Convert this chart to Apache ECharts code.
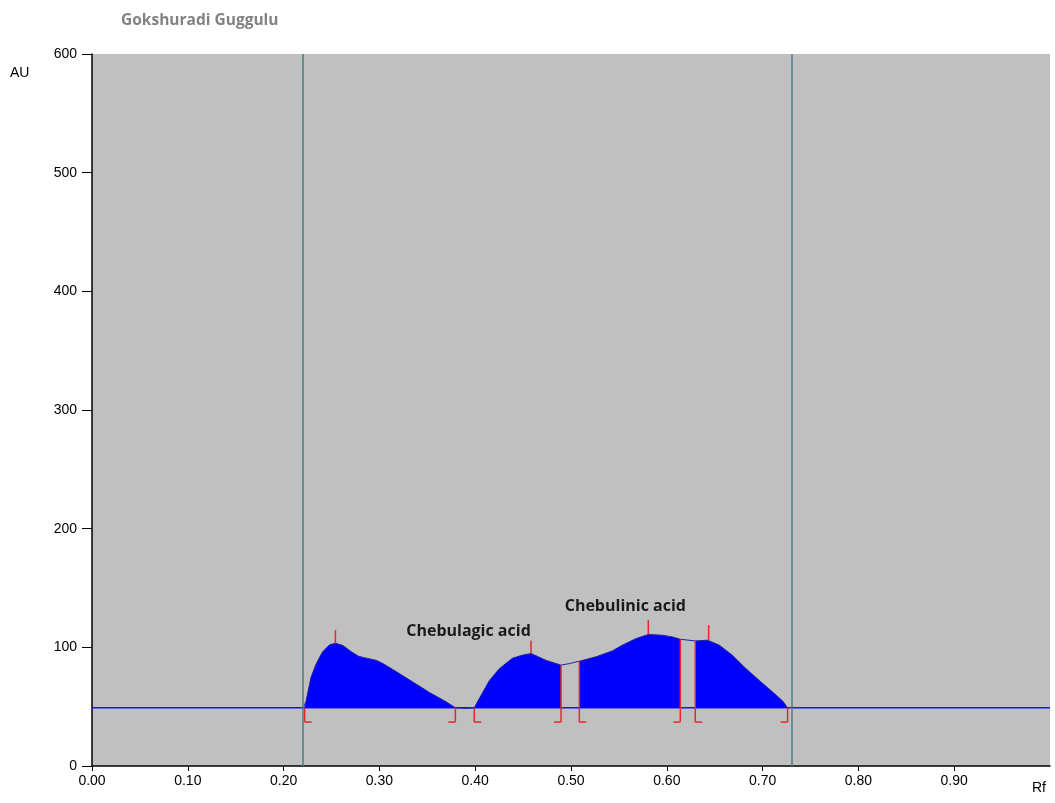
<!DOCTYPE html>
<html><head><meta charset="utf-8">
<script src="https://cdn.jsdelivr.net/npm/echarts@6/dist/echarts.min.js"></script>
<style>html,body{margin:0;padding:0;background:#fff}#c{width:1055px;height:803px}</style>
</head><body><div id="c"></div>
<script>
// ---- data ----
const chartTitle = 'Gokshuradi Guggulu';
const yAxisName = 'AU';
const xAxisName = 'Rf';
const baselineAU = 49;
const bracketBottomAU = 37;
const trackLimits = [0.2207, 0.7276];
// densitometric trace [Rf, AU]
const trace = [
  [0.000,49],[0.2207,49],[0.222,49],[0.2235,55],[0.2287,75],[0.234,86],[0.2405,96],[0.2478,102],[0.2541,103.5],
  [0.2620,101.5],[0.2712,96],[0.2782,92.5],[0.2830,91.5],[0.2969,89],[0.3032,86.5],[0.3136,81.5],
  [0.3345,71],[0.3522,62],[0.3699,54],[0.3793,49],[0.3900,48.5],[0.3990,49],
  [0.4044,57],[0.4148,72],[0.4252,82],[0.4388,90.8],[0.4492,93.4],[0.4583,94.8],[0.4660,92],
  [0.4740,89],[0.4896,85],[0.4983,86.3],[0.5087,88.3],[0.5261,92],[0.5431,97],[0.5536,101.8],
  [0.5679,107.4],[0.5807,110.8],[0.5953,110.2],[0.6057,108.8],[0.6141,106.8],[0.6297,105.4],
  [0.6426,106],[0.6548,101.8],[0.6684,93.4],[0.6827,82],[0.6966,72],[0.7104,62.4],[0.7209,54.8],
  [0.7261,49],[1.000,49]
];
// integrated peak windows [startRf, endRf]
const peakWindows = [[0.222,0.3793],[0.399,0.4896],[0.5087,0.6141],[0.6297,0.7261]];
// bracket markers [Rf, topAU, direction(+1 start, -1 end)]
const brackets = [
  [0.222,49,1],[0.3793,49,-1],[0.399,49,1],[0.4896,85,-1],
  [0.5087,88.3,1],[0.6141,106.8,-1],[0.6297,105.4,1],[0.7261,49,-1]
];
// peak maximum ticks [Rf, fromAU, toAU]
const peakTicks = [[0.2541,103.5,114.5],[0.4583,94.8,105.7],[0.5807,110.8,122.9],[0.6437,106,118.7]];
// annotations [Rf, AU, text]
const annotations = [[0.393,113.6,'Chebulagic acid'],[0.5567,134.3,'Chebulinic acid']];
const xTickLabels = ['0.00','0.10','0.20','0.30','0.40','0.50','0.60','0.70','0.80','0.90','1.00'];

// ---- chart ----
const chart = echarts.init(document.getElementById('c'), null, {renderer:'canvas'});
const fillSeries = peakWindows.map(w => ({
  type:'line', silent:true, symbol:'none', z:2,
  data: trace.filter(p => p[0] >= w[0] && p[0] <= w[1]),
  lineStyle:{width:0},
  areaStyle:{color:'#0000ff', opacity:1, origin: baselineAU}
}));
const axisFont = {fontFamily:'"Liberation Sans", Arial, sans-serif', fontSize:14, color:'#000'};
chart.setOption({
  animation:false,
  backgroundColor:'#ffffff',
  grid:{left:92, right:5, top:54, bottom:37, show:true, backgroundColor:'#c0c0c0', borderWidth:0},
  xAxis:{type:'value', min:0, max:1, interval:0.1,
    axisLine:{show:true, onZero:false, lineStyle:{color:'#000', width:1.5}},
    axisTick:{show:true, length:5, lineStyle:{color:'#000'}},
    splitLine:{show:false},
    axisLabel:Object.assign({margin:8, showMaxLabel:false,
      formatter:(v)=>xTickLabels[Math.round(v*10)]}, axisFont)},
  yAxis:{type:'value', min:0, max:600, interval:100,
    axisLine:{show:true, lineStyle:{color:'#000', width:1.5}},
    axisTick:{show:true, length:10, lineStyle:{color:'#000'}},
    splitLine:{show:false},
    axisLabel:Object.assign({margin:15}, axisFont)},
  graphic:[
    {type:'text', left:121, top:13, style:{text:chartTitle, font:'bold 15.5px "Open Sans", sans-serif', fill:'#828282'}},
    {type:'text', left:10, top:66, style:{text:yAxisName, font:'14px "Liberation Sans", Arial, sans-serif', fill:'#000'}},
    {type:'text', left:1032, top:781, style:{text:xAxisName, font:'14px "Liberation Sans", Arial, sans-serif', fill:'#000'}}
  ],
  series:[
    {type:'line', silent:true, symbol:'none', z:1,
      data:[[0,baselineAU],[1,baselineAU]],
      lineStyle:{color:'#1414ff', width:1.5},
      markLine:{silent:true, symbol:'none', label:{show:false},
        lineStyle:{color:'#4b7d84', width:1.5, type:'solid'},
        data: trackLimits.map(v=>({xAxis:v}))}
    },
    ...fillSeries,
    {type:'line', silent:true, symbol:'none', z:3,
      data: trace.filter(p => p[0] >= 0.2207 && p[0] <= 0.7261),
      lineStyle:{color:'#22229a', width:1}},
    {type:'custom', z:4, silent:true, data:brackets,
      renderItem:(params, api)=>{
        const x = api.value(0), top = api.value(1), dir = api.value(2);
        const p1 = api.coord([x, top]), p2 = api.coord([x, bracketBottomAU]);
        const st = {stroke:'#e8262c', lineWidth:1.5};
        return {type:'group', children:[
          {type:'line', shape:{x1:p1[0], y1:p1[1], x2:p2[0], y2:p2[1]}, style:st},
          {type:'line', shape:{x1:p2[0], y1:p2[1], x2:p2[0]+dir*7, y2:p2[1]}, style:st}
        ]};
      }},
    {type:'custom', z:4, silent:true, data:peakTicks,
      renderItem:(params, api)=>{
        const p1 = api.coord([api.value(0), api.value(1)]), p2 = api.coord([api.value(0), api.value(2)]);
        return {type:'line', shape:{x1:p1[0], y1:p1[1], x2:p2[0], y2:p2[1]}, style:{stroke:'#e8262c', lineWidth:1.5}};
      }},
    {type:'custom', z:5, silent:true, data:annotations,
      renderItem:(params, api)=>{
        const p = api.coord([api.value(0), api.value(1)]);
        return {type:'text', x:p[0], y:p[1], style:{text:annotations[params.dataIndex][2],
          font:'bold 16px "Open Sans", sans-serif', fill:'#1a1a1a', align:'center', verticalAlign:'middle'}};
      }}
  ]
});
</script></body></html>
